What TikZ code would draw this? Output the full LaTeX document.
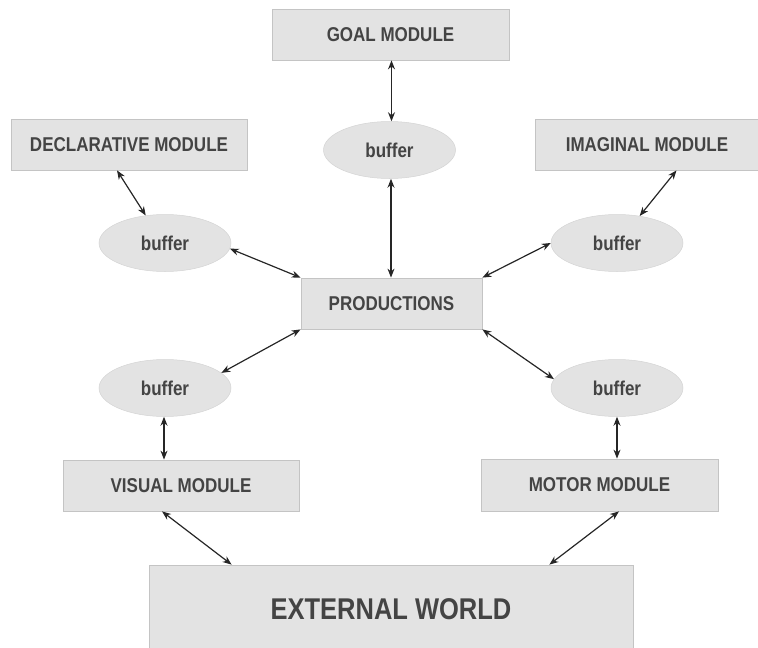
\documentclass[tikz,border=0pt]{standalone}
\usepackage{fontspec}
\newfontfamily\lbl[FakeStretch=0.85]{Liberation Sans}
\usetikzlibrary{arrows.meta,calc,shapes.geometric}
\definecolor{boxfill}{HTML}{E3E3E3}
\definecolor{boxline}{HTML}{C4C4C4}
\definecolor{txt}{HTML}{444444}
\tikzset{
  modbox/.style={draw=boxline,line width=0.8pt,fill=boxfill,inner sep=0pt,
    text=txt,font=\lbl\bfseries\fontsize{20}{22}\selectfont},
  bufell/.style={ellipse,draw=boxfill!85!gray,line width=0.5pt,fill=boxfill,inner sep=0pt,
    minimum width=132pt,minimum height=57pt,text=txt,font=\lbl\bfseries\fontsize{20}{22}\selectfont},
  arr/.style={{Stealth[length=9pt,width=7pt]}-{Stealth[length=9pt,width=7pt]},line width=1.2pt,draw=black!85}
}
\begin{document}
\begin{tikzpicture}[x=1pt,y=-1pt]
\useasboundingbox (0,0) rectangle (758,648);
\begin{scope}
\clip (0,0) rectangle (758,648);
\node[modbox,minimum width=237pt,minimum height=51pt] (goal) at (390.5,34.5) {GOAL MODULE};
\node[bufell] (gbuf) at (389.5,150) {buffer};
\node[modbox,minimum width=236pt,minimum height=51pt] (decl) at (129,144.5) {DECLARATIVE MODULE};
\node[bufell] (lbuf) at (165,243) {buffer};
\node[modbox,minimum width=224pt,minimum height=51pt] (imag) at (647,144.5) {IMAGINAL MODULE};
\node[bufell] (rbuf) at (617,243) {buffer};
\node[modbox,minimum width=181pt,minimum height=51pt] (prod) at (391.5,303.5) {PRODUCTIONS};
\node[bufell] (llbuf) at (165,388) {buffer};
\node[bufell] (rlbuf) at (617,388) {buffer};
\node[modbox,minimum width=236pt,minimum height=51pt] (visual) at (181,485.5) {VISUAL MODULE};
\node[modbox,minimum width=237pt,minimum height=52pt] (motor) at (599.5,485) {MOTOR MODULE};
\node[modbox,minimum width=484pt,minimum height=88pt,font=\lbl\bfseries\fontsize{30}{32}\selectfont] (ext) at (391,609) {EXTERNAL WORLD};
\end{scope}
\draw[arr] (goal.south -| 391.5,0) -- (gbuf.north -| 391.5,0);
\draw[arr] (gbuf.south -| 391,0) -- (prod.north -| 391,0);
\draw[arr] ($(decl.south)+(-12,0)$) -- (lbuf.125);
\draw[arr] (lbuf.-5) -- (prod.north west);
\draw[arr] ($(imag.south)+(29.5,0)$) -- (rbuf.50);
\draw[arr] (rbuf.west) -- (prod.north east);
\draw[arr] (prod.south west) -- (llbuf.15);
\draw[arr] (prod.south east) -- (rlbuf.172);
\draw[arr] (llbuf.south -| 164,0) -- (visual.north -| 164,0);
\draw[arr] (rlbuf.south -| 617,0) -- (motor.north -| 617,0);
\draw[arr] ($(visual.south)+(-19,0)$) -- ($(ext.north west)+(83,0)$);
\draw[arr] ($(motor.south)+(19.5,0)$) -- ($(ext.north east)+(-84,0)$);
\end{tikzpicture}
\end{document}
